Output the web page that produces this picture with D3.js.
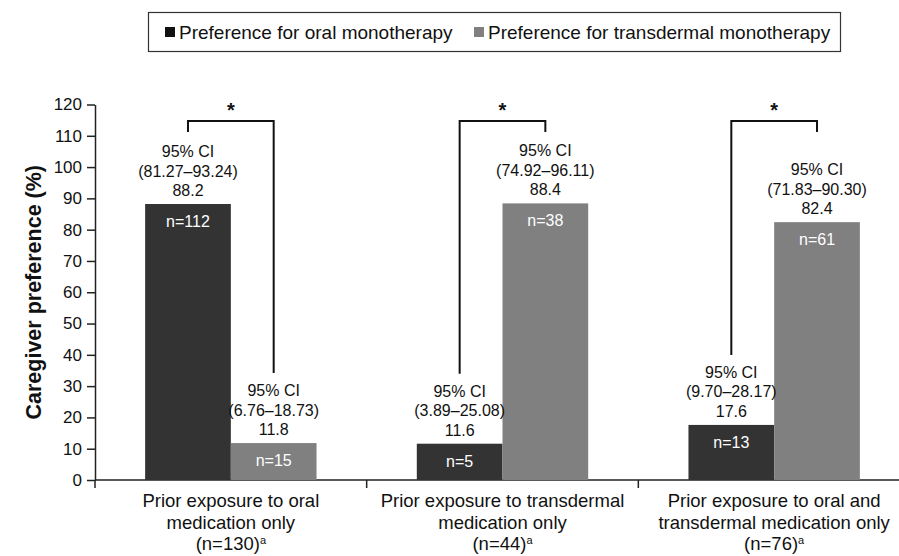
<!DOCTYPE html>
<html>
<head>
<meta charset="utf-8">
<script src="https://cdn.jsdelivr.net/npm/d3@7"></script>
<style>
  body { margin: 0; background: #fff; }
  svg text { font-family: "Liberation Sans", Arial, sans-serif; }
</style>
</head>
<body>
<svg id="chart" width="899" height="556"></svg>
<script>
// categories (each label split into lines) and the sample size line
var categories = ['oral', 'transdermal', 'both'];
var categoryLines = [
    ['Prior exposure to oral', 'medication only'],
    ['Prior exposure to transdermal', 'medication only'],
    ['Prior exposure to oral and', 'transdermal medication only']
];
var categoryN = ['130', '44', '76'];

// series
var seriesNames = ['Preference for oral monotherapy', 'Preference for transdermal monotherapy'];
var seriesColors = ['#333333', '#808080'];
var oralValues = [88.2, 11.6, 17.6];
var transdermalValues = [11.8, 88.4, 82.4];
var oralN = [112, 5, 13];
var transdermalN = [15, 38, 61];
var oralCI = ['81.27–93.24', '3.89–25.08', '9.70–28.17'];
var transdermalCI = ['6.76–18.73', '74.92–96.11', '71.83–90.30'];

var yTicks = [0, 10, 20, 30, 40, 50, 60, 70, 80, 90, 100, 110, 120];

var svg = d3.select('#chart');

// scales
var x = d3.scaleBand().domain(categories).range([95, 910]);
var sub = d3.scaleBand().domain([0, 1]).range([0, x.bandwidth()]).paddingOuter(0.585).paddingInner(0);
var y = d3.scaleLinear().domain([0, 120]).range([480, 104.5]);

// y axis
var yAxis = svg.append('g')
    .attr('transform', 'translate(95,0)')
    .call(d3.axisLeft(y).tickValues(yTicks).tickSize(8).tickSizeOuter(0));
yAxis.select('.domain').attr('stroke', '#222').attr('stroke-width', 1.5);
yAxis.selectAll('.tick line').attr('stroke', '#222').attr('stroke-width', 1.5);
yAxis.selectAll('.tick text').attr('font-size', 17).attr('fill', '#111').attr('x', -13);

// x axis line and boundary ticks
svg.append('line')
    .attr('x1', 95).attr('x2', 899)
    .attr('y1', y(0)).attr('y2', y(0))
    .attr('stroke', '#222').attr('stroke-width', 1.5);
svg.selectAll('.xtick')
    .data(categories)
    .enter()
    .append('line')
    .attr('class', 'xtick')
    .attr('x1', function(d) { return x(d); })
    .attr('x2', function(d) { return x(d); })
    .attr('y1', y(0))
    .attr('y2', y(0) + 8)
    .attr('stroke', '#222').attr('stroke-width', 1.5);

// y title
svg.append('text')
    .attr('transform', 'translate(41,' + ((y(0) + y(120)) / 2) + ') rotate(-90)')
    .attr('text-anchor', 'middle')
    .attr('font-size', 21.5)
    .attr('font-weight', 'bold')
    .attr('fill', '#111')
    .text('Caregiver preference (%)');

// build bar records
var bars = [];
categories.forEach(function(c, i) {
    bars.push({cat: c, s: 0, value: oralValues[i], n: oralN[i], ci: oralCI[i]});
    bars.push({cat: c, s: 1, value: transdermalValues[i], n: transdermalN[i], ci: transdermalCI[i]});
});
function barCenter(d) {
    return x(d.cat) + sub(d.s) + sub.bandwidth() / 2;
}

svg.selectAll('.bar')
    .data(bars)
    .enter()
    .append('rect')
    .attr('class', 'bar')
    .attr('x', function(d) { return x(d.cat) + sub(d.s); })
    .attr('y', function(d) { return y(d.value); })
    .attr('width', sub.bandwidth())
    .attr('height', function(d) { return y(0) - y(d.value); })
    .attr('fill', function(d) { return seriesColors[d.s]; });

// n= inside bars
svg.selectAll('.nlabel')
    .data(bars)
    .enter()
    .append('text')
    .attr('x', barCenter)
    .attr('y', function(d) { return y(d.value) + 23; })
    .attr('text-anchor', 'middle')
    .attr('font-size', 16)
    .attr('fill', '#fff')
    .text(function(d) { return 'n=' + d.n; });

// CI labels above bars
var lab = svg.selectAll('.vlabel')
    .data(bars)
    .enter()
    .append('text')
    .attr('text-anchor', 'middle')
    .attr('font-size', 16)
    .attr('fill', '#111');
lab.each(function(d) {
    var t = d3.select(this);
    var lines = ['95% CI', '(' + d.ci + ')', d.value.toFixed(1)];
    lines.forEach(function(l, k) {
        t.append('tspan')
            .attr('x', barCenter(d))
            .attr('y', y(d.value) - 8 - (2 - k) * 19.5)
            .text(l);
    });
});

// significance brackets: short end over the higher bar, long end down to the lower bar's label
var bracketY = 121;
categories.forEach(function(c, i) {
    var b0 = bars[i * 2], b1 = bars[i * 2 + 1];
    var low = b0.value < b1.value ? b0 : b1;
    var high = low === b0 ? b1 : b0;
    var lowEnd = y(low.value) - 14 - 2 * 19.5 - 17;
    var pts = [[barCenter(high), bracketY + 11], [barCenter(high), bracketY],
               [barCenter(low), bracketY], [barCenter(low), lowEnd]];
    svg.append('path')
        .attr('d', d3.line()(pts))
        .attr('fill', 'none')
        .attr('stroke', '#111')
        .attr('stroke-width', 2);
    svg.append('text')
        .attr('x', (barCenter(b0) + barCenter(b1)) / 2)
        .attr('y', bracketY - 4)
        .attr('text-anchor', 'middle')
        .attr('font-size', 20)
        .attr('font-weight', 'bold')
        .attr('fill', '#111')
        .text('*');
});

// category labels
categories.forEach(function(c, i) {
    var cx = x(c) + x.bandwidth() / 2;
    var t = svg.append('text')
        .attr('text-anchor', 'middle')
        .attr('font-size', 18.5)
        .attr('fill', '#111');
    categoryLines[i].forEach(function(l, k) {
        t.append('tspan').attr('x', cx).attr('y', 507 + k * 21.5).text(l);
    });
    t.append('tspan').attr('x', cx).attr('y', 550).text('(n=' + categoryN[i] + ')');
    t.append('tspan').attr('font-size', 11).attr('dy', -6).text('a');
});

// legend
var legend = svg.append('g');
legend.append('rect')
    .attr('x', 148.5).attr('y', 12.5).attr('width', 692).attr('height', 39)
    .attr('fill', '#fff').attr('stroke', '#333').attr('stroke-width', 1.2);
var legX = [165, 474];
seriesNames.forEach(function(name, i) {
    legend.append('rect')
        .attr('x', legX[i]).attr('y', 27).attr('width', 10).attr('height', 10)
        .attr('fill', i === 0 ? '#111' : seriesColors[1]);
    legend.append('text')
        .attr('x', legX[i] + 14).attr('y', 38.5)
        .attr('font-size', 19).attr('fill', '#111')
        .text(name);
});
</script>
</body>
</html>
